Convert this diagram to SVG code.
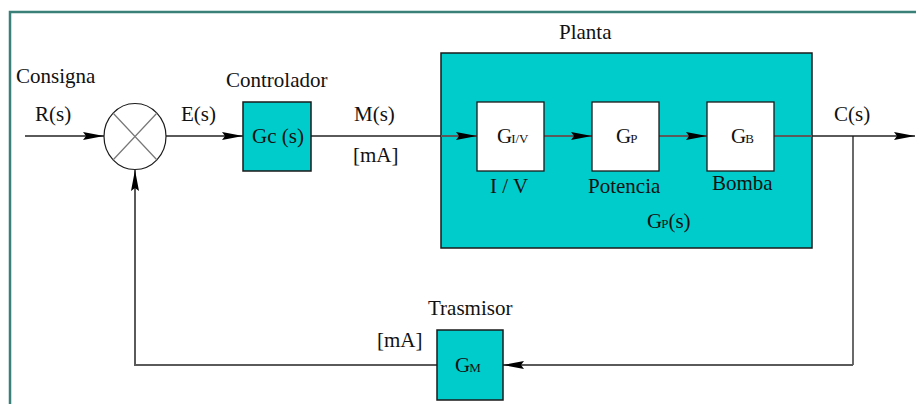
<svg xmlns="http://www.w3.org/2000/svg" width="916" height="404" viewBox="0 0 916 404">
<style>
.blk{fill:#00CCCC;stroke:#1a1a1a;stroke-width:1.5}
.wblk{fill:#fff;stroke:#1a1a1a;stroke-width:1.3}
.ln{fill:none;stroke:#5a5a5a;stroke-width:2}
.lnk{fill:none;stroke:#1a1a1a;stroke-width:1.3}
</style>
<defs>
<marker id="ah" markerUnits="userSpaceOnUse" markerWidth="22" markerHeight="10" refX="21" refY="5" orient="auto">
<path d="M0,1 L21,5 L0,9 L3,5 Z" fill="#000"/>
</marker>
</defs>
<rect x="10" y="12" width="930" height="420" fill="#fff" stroke="#3a7f78" stroke-width="2.5"/>

<g id="connectors">
<path class="ln" d="M25,136 H104" marker-end="url(#ah)"/>
<path class="ln" d="M166,136 H243" marker-end="url(#ah)"/>
<path class="ln" d="M311,136 H477" marker-end="url(#ah)"/>
<path class="ln" d="M774,136 H915" marker-end="url(#ah)"/>
<path class="lnk" d="M853,136 V365"/>
<path class="ln" d="M853,365 H503" marker-end="url(#ah)"/>
<path class="ln" d="M437,365 H135 V170" marker-end="url(#ah)"/>
</g>

<g id="plant">
<rect x="441" y="53" width="371" height="195" class="blk"/>
<text font-family="Liberation Serif" font-size="21" fill="#111" x="559" y="39">Planta</text>
<text font-family="Liberation Serif" font-size="21" fill="#111" x="647" y="228">G<tspan font-size="13" dx="-1">P</tspan>(s)</text>
</g>
<g id="connectors-inner">
<path class="ln" d="M441,136 H477" marker-end="url(#ah)" stroke="#1f5f5f"/>
<path class="ln" d="M544,136 H592" marker-end="url(#ah)" stroke="#1f5f5f"/>
<path class="ln" d="M659,136 H707" marker-end="url(#ah)" stroke="#1f5f5f"/>
<path class="ln" d="M774,136 H812" stroke="#1f5f5f"/>
</g>

<g id="sum">
<ellipse cx="135" cy="136.5" rx="31" ry="33" fill="#fff" stroke="#1a1a1a" stroke-width="1.2"/>
<path d="M113,113 L157,160 M157,113 L113,160" stroke="#777" stroke-width="1.2"/>
</g>

<g id="controller">
<rect x="243" y="102" width="68" height="69" class="blk"/>
<text font-family="Liberation Serif" font-size="21" fill="#111" x="252" y="143">Gc (s)</text>
<text font-family="Liberation Serif" font-size="21" fill="#111" x="226" y="87">Controlador</text>
</g>

<g id="giv">
<rect x="477" y="102" width="67" height="69" class="wblk"/>
<text font-family="Liberation Serif" font-size="21" fill="#111" x="497" y="143">G<tspan font-size="13" dx="-1">I/V</tspan></text>
<text font-family="Liberation Serif" font-size="21" fill="#111" x="490" y="193">I / V</text>
</g>

<g id="gp">
<rect x="592" y="102" width="67" height="69" class="wblk"/>
<text font-family="Liberation Serif" font-size="21" fill="#111" x="616" y="143">G<tspan font-size="13" dx="-1">P</tspan></text>
<text font-family="Liberation Serif" font-size="21" fill="#111" x="588" y="193">Potencia</text>
</g>

<g id="gb">
<rect x="707" y="102" width="67" height="69" class="wblk"/>
<text font-family="Liberation Serif" font-size="21" fill="#111" x="731" y="143">G<tspan font-size="13" dx="-1">B</tspan></text>
<text font-family="Liberation Serif" font-size="21" fill="#111" x="712" y="190">Bomba</text>
</g>

<g id="gm">
<rect x="437" y="330" width="66" height="70" class="blk"/>
<text font-family="Liberation Serif" font-size="21" fill="#111" x="455" y="372">G<tspan font-size="13" dx="-1">M</tspan></text>
<text font-family="Liberation Serif" font-size="21" fill="#111" x="428" y="315">Trasmisor</text>
<text font-family="Liberation Serif" font-size="21" fill="#111" x="377" y="347">[mA]</text>
</g>

<g id="labels">
<text font-family="Liberation Serif" font-size="21" fill="#111" x="16" y="83">Consigna</text>
<text font-family="Liberation Serif" font-size="21" fill="#111" x="35" y="121">R(s)</text>
<text font-family="Liberation Serif" font-size="21" fill="#111" x="181" y="121">E(s)</text>
<text font-family="Liberation Serif" font-size="21" fill="#111" x="354" y="121">M(s)</text>
<text font-family="Liberation Serif" font-size="21" fill="#111" x="353" y="162">[mA]</text>
<text font-family="Liberation Serif" font-size="21" fill="#111" x="834" y="121">C(s)</text>
</g>
</svg>
